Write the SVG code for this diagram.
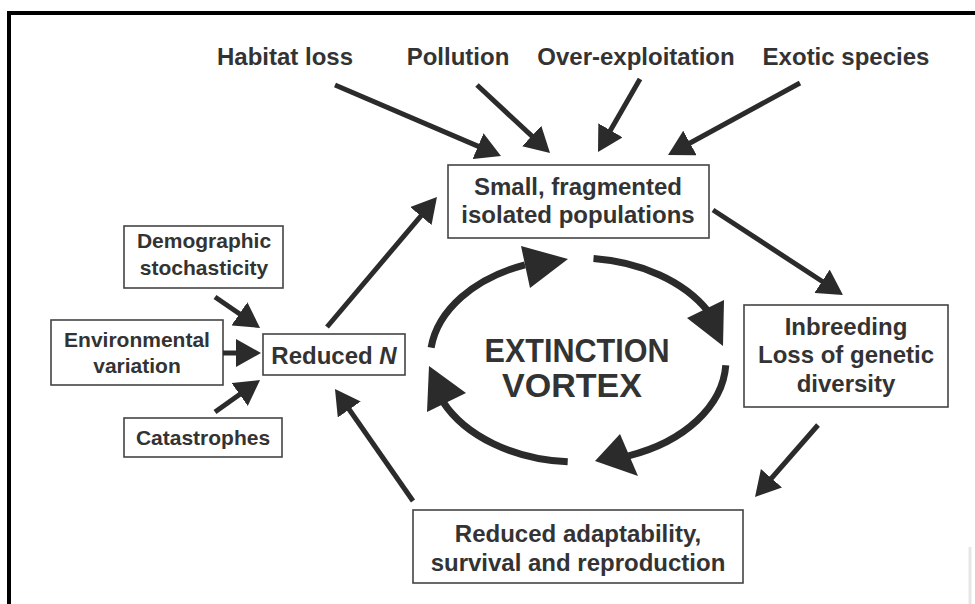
<svg xmlns="http://www.w3.org/2000/svg" width="975" height="604" viewBox="0 0 975 604">
<style>
text{font-family:"Liberation Sans",Arial,Helvetica,sans-serif;font-weight:bold;fill:#333;text-anchor:middle}
.t24{font-size:24px}
.t21{font-size:21px}
.box{fill:#fff;stroke:#444;stroke-width:1.6}
.ln{stroke:#2b2b2b;stroke-width:5;fill:none;marker-end:url(#ah)}
.arc{stroke:#2b2b2b;stroke-width:7;fill:none;stroke-linecap:butt}
.hd{fill:#2b2b2b}
</style>
<defs>
<marker id="ah" markerUnits="userSpaceOnUse" viewBox="0 0 25 28" markerWidth="25" markerHeight="28" refX="15" refY="14" orient="auto">
<path d="M0,0 L25,14 L0,28 z" fill="#2b2b2b"/>
</marker>
</defs>
<rect width="975" height="604" fill="#fff"/>
<path d="M9,604 V13 H975" fill="none" stroke="#000" stroke-width="4"/>
<line x1="970" y1="547" x2="970" y2="604" stroke="#e6e6e6" stroke-width="3"/>

<g id="habitat-loss"><text class="t24" x="285" y="65">Habitat loss</text></g>
<g id="pollution"><text class="t24" x="458" y="65">Pollution</text></g>
<g id="over-exploitation"><text class="t24" x="636" y="65">Over-exploitation</text></g>
<g id="exotic-species"><text class="t24" x="846" y="65">Exotic species</text></g>

<g id="small-populations">
<rect class="box" x="448" y="165" width="261" height="73"/>
<text class="t24" x="578" y="195">Small, fragmented</text>
<text class="t24" x="578" y="223">isolated populations</text>
</g>

<g id="inbreeding">
<rect class="box" x="744" y="305" width="204" height="102"/>
<text class="t24" x="846" y="335">Inbreeding</text>
<text class="t24" x="846" y="363">Loss of genetic</text>
<text class="t24" x="846" y="392">diversity</text>
</g>

<g id="reduced-adaptability">
<rect class="box" x="413" y="510" width="330" height="73"/>
<text class="t24" x="578" y="542">Reduced adaptability,</text>
<text class="t24" x="578" y="571">survival and reproduction</text>
</g>

<g id="reduced-n">
<rect class="box" x="263" y="334" width="142" height="41"/>
<text class="t24" x="334" y="364">Reduced <tspan font-style="italic">N</tspan></text>
</g>

<g id="demographic">
<rect class="box" x="124" y="226" width="159" height="62"/>
<text class="t21" x="204" y="248">Demographic</text>
<text class="t21" x="204" y="275">stochasticity</text>
</g>

<g id="environmental">
<rect class="box" x="51" y="320" width="172" height="65"/>
<text class="t21" x="137" y="347">Environmental</text>
<text class="t21" x="137" y="373">variation</text>
</g>

<g id="catastrophes">
<rect class="box" x="124" y="418" width="158" height="39"/>
<text class="t21" x="203" y="445">Catastrophes</text>
</g>

<g id="vortex-label">
<text x="577" y="362" font-size="34" textLength="185" lengthAdjust="spacingAndGlyphs">EXTINCTION</text>
<text x="572" y="397" font-size="34" textLength="140" lengthAdjust="spacingAndGlyphs">VORTEX</text>
</g>

<g id="connectors">
<line class="ln" x1="335" y1="85" x2="491.8" y2="152.1"/>
<line class="ln" x1="477" y1="85" x2="542.7" y2="146.2"/>
<line class="ln" x1="640" y1="79" x2="603" y2="143.3"/>
<line class="ln" x1="800" y1="83" x2="676.8" y2="150.2"/>
<line class="ln" x1="327" y1="327" x2="430.5" y2="204.6"/>
<line class="ln" x1="713" y1="210" x2="834.6" y2="289.5"/>
<line class="ln" x1="818" y1="425" x2="761.6" y2="489.5"/>
<line class="ln" x1="413" y1="501" x2="340.7" y2="397.2"/>
<line class="ln" x1="215" y1="297" x2="251.8" y2="322.3"/>
<line class="ln" x1="223" y1="353" x2="251" y2="353"/>
<line class="ln" x1="215" y1="412" x2="251.9" y2="385.8"/>

<path class="arc" d="M431.1,347.6 A148,102 0 0 1 525,264.8"/>
<polygon class="hd" points="521,246 568,259 530,288"/>
<path class="arc" d="M593.5,258.6 A148,102 0 0 1 707.4,310.5"/>
<polygon class="hd" points="687,318 724,300 723,346"/>
<path class="arc" d="M725.8,365.3 A148,102 0 0 1 628.6,455.8"/>
<polygon class="hd" points="620,434 638,476 595,461"/>
<path class="arc" d="M567.7,461.8 A148,102 0 0 1 442.8,401.5"/>
<polygon class="hd" points="427,412 466,393 429,366"/>
</g>
</svg>
